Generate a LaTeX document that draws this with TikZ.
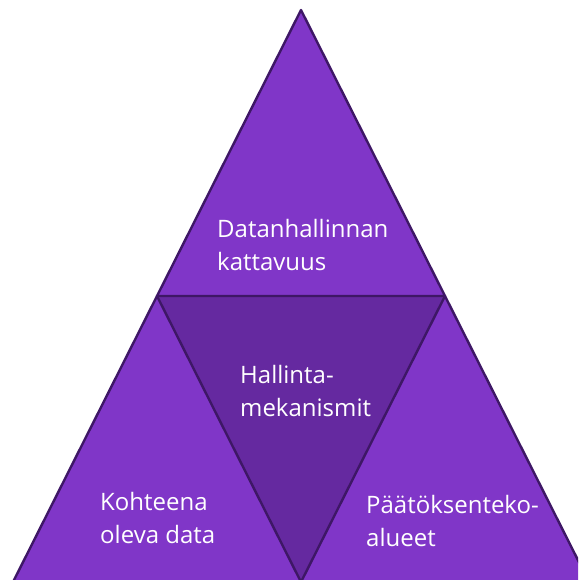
\documentclass[tikz,border=0pt]{standalone}
\usepackage{fontspec}
\setmainfont{Open Sans}
\definecolor{tri}{HTML}{8036C8}
\definecolor{mid}{HTML}{6529A0}
\definecolor{edge}{HTML}{3E1766}
\begin{document}
\begin{tikzpicture}[x=1pt,y=-1pt,
  piece/.style={draw=edge,line width=2.4pt,line join=round},
  lbl/.style={anchor=base west,inner sep=0pt,text=white,align=left,
    font=\fontsize{24}{33}\selectfont}]
\useasboundingbox (0,0) rectangle (578,580);
\clip (0,0) rectangle (578,580);
\coordinate (A) at (301,10);
\coordinate (ML) at (157,296);
\coordinate (MR) at (445,296);
\coordinate (BL) at (13,582);
\coordinate (BM) at (301,582);
\coordinate (BR) at (589,582);
\fill[tri] (A) -- (ML) -- (MR) -- cycle;
\fill[tri] (ML) -- (BL) -- (BM) -- cycle;
\fill[tri] (MR) -- (BM) -- (BR) -- cycle;
\fill[mid] (ML) -- (MR) -- (BM) -- cycle;
\draw[piece] (A) -- (ML) -- (MR) -- cycle;
\draw[piece] (ML) -- (BL) -- (BM) -- cycle;
\draw[piece] (MR) -- (BM) -- (BR) -- cycle;
\node[lbl] (t1) at (217,270) {Datanhallinnan\\kattavuus};
\node[lbl] (t2) at (240,416) {Hallinta-\\mekanismit};
\node[lbl] (t3) at (100,543) {Kohteena\\oleva data};
\node[lbl] (t4) at (366,546) {Päätöksenteko-\\alueet};
\end{tikzpicture}
\end{document}
